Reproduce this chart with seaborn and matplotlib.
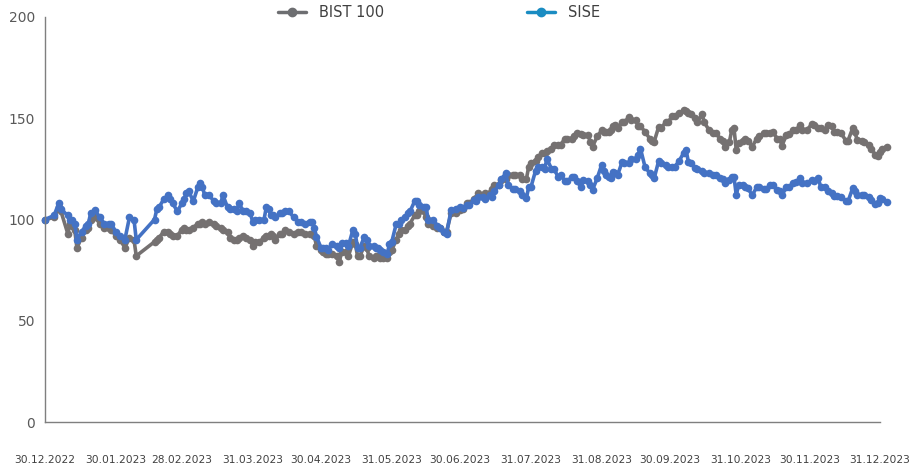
import matplotlib
matplotlib.use("Agg")
import matplotlib.pyplot as plt
from matplotlib.lines import Line2D
import seaborn as sns
import pandas as pd

# days since 30.12.2022 (both series share the same trading dates)
start = pd.Timestamp("2022-12-30")
days = [0, 4, 6, 7, 10, 11, 12, 13, 14, 16, 18, 19, 20, 22, 24, 26, 28, 29, 31, 33,
        35, 37, 39, 40, 48, 49, 50, 52, 54, 55, 56, 58, 60, 61,
        62, 63, 65, 67, 68, 69, 70, 72, 74, 75, 77, 78, 80, 81, 83, 84, 85, 87, 88, 90,
        91, 92, 94, 96, 97, 98, 99, 100, 101, 103, 104, 105, 107, 109, 111, 112, 114,
        116, 117, 118, 119, 121, 122,
        123, 124, 126, 128, 129, 130, 132, 133, 135, 136, 137, 138, 140, 141, 142, 144,
        145, 146, 147, 148, 150, 151, 152, 154, 155, 156, 158, 159, 160, 162, 163, 164,
        166, 167, 168, 170, 172, 173, 175, 176, 178, 180, 182, 183,
        185, 186, 188, 189, 190, 192, 193, 195, 196, 197, 199, 200, 202, 203, 205, 206,
        208, 209, 211, 212, 213, 215, 216, 218, 219, 220, 222, 223, 225, 226, 228, 229,
        231, 232, 233, 235, 236, 238, 239, 240, 242, 244, 245,
        246, 247, 248, 249, 250, 251, 253, 254, 256, 257, 259, 260, 261, 263, 265, 266,
        267, 269, 270, 272, 273, 275, 276, 278, 280, 281, 282, 283, 285, 286, 288, 289,
        291, 293, 294, 296, 297, 298, 300, 301, 302, 303, 304, 306,
        307, 308, 310, 312, 313, 315, 316, 318, 319, 321, 322, 323, 325, 326, 328, 329,
        331, 332, 334, 336, 337, 339, 340, 342, 343, 345, 346, 347, 349, 351, 352, 354,
        355, 356, 358, 359, 361, 362, 364, 365, 366, 367, 369]

bist100 = [100, 101, 106, 104, 93, 98, 97, 95, 86, 91, 95, 96, 100, 101, 98, 96, 96, 95, 92, 90,
           86, 91, 90, 82, 89, 90, 91, 94, 94, 93, 92, 92, 95, 96,
           95, 95, 96, 98, 98, 99, 98, 99, 98, 97, 96, 95, 94, 91, 90, 90, 91, 92, 91, 90,
           87, 89, 89, 91, 92, 92, 93, 92, 90, 93, 93, 95, 94, 93, 94, 94, 93,
           93, 93, 92, 87, 85, 84,
           83, 83, 83, 82, 79, 84, 84, 82, 89, 88, 82, 82, 87, 86, 82, 81,
           82, 82, 81, 81, 81, 84, 85, 90, 93, 95, 95, 97, 98, 102, 102, 104,
           104, 101, 98, 97, 96, 96, 94, 94, 103, 103, 104.7, 105,
           108, 108, 110, 110.5, 113, 112, 113, 113, 115, 117, 117, 119.5, 120, 122, 122, 122,
           122, 120, 120, 126, 128, 129, 131, 132.7, 133, 134, 135, 137, 136.8, 137, 140, 140,
           140, 141, 142.5, 142, 141.7, 141.7, 138.4, 136, 141, 144, 143,
           143.4, 143, 144, 146, 146.5, 145, 148.3, 148, 150.8, 149, 149, 146, 146, 143.4, 140, 139,
           138.4, 145.8, 145, 148, 148, 151, 151, 152.4, 154, 153.5, 152.4, 152, 150, 148, 152, 148,
           144.2, 142.5, 142.5, 140, 139, 136, 138.4, 144, 145, 134.3, 138, 139,
           140, 139, 136, 140, 141, 142.5, 142.5, 142.5, 143, 140, 140, 136.5, 141.7, 142, 144.2, 144,
           146.6, 144.2, 144.2, 147, 146.5, 145, 145, 144, 146.6, 146, 143.4, 143, 142.5, 139, 139, 145,
           143, 139.3, 139, 138.4, 136.8, 135, 132, 131.5, 133.5, 135, 136]

sise = [100, 102, 108, 105, 102, 100, 100, 98, 90, 94, 97, 98, 103, 104.5, 101, 98, 98, 98, 94, 92,
        90, 101, 100, 90, 100, 105, 106, 110, 112, 110, 108, 104, 108, 110,
        113, 114, 109, 116, 118, 116, 112, 112, 109, 108, 108, 112, 106, 105, 105, 104, 108, 104, 104, 103,
        99, 100, 100, 100, 106, 105, 102, 102, 101, 103, 103, 104, 104, 101, 99, 99, 98,
        99, 99, 96, 91.5, 86, 86,
        86, 85, 88, 87, 86, 88.5, 88.5, 87, 95, 93, 86, 86, 91.5, 90, 87, 87,
        86, 86, 85, 84, 83, 88, 89, 98, 98, 100, 101, 103, 104, 109, 109, 107,
        106, 106, 100, 100, 97, 96, 94, 93, 104.7, 105, 106, 105.5,
        107, 107, 109.6, 109, 111, 111, 110, 112, 111, 114, 117, 120, 122.8, 117, 115, 115,
        114, 112, 110.4, 116, 116, 124, 126, 126, 125, 130, 125, 125, 121, 122, 119, 119,
        121, 121, 119, 116, 119.5, 119, 117, 114.6, 120.3, 127, 124,
        122, 121, 120.3, 123.6, 123, 122, 128.5, 128, 127.7, 130, 130, 132, 135, 126, 123, 122,
        120.3, 129, 128, 127, 126, 126, 126, 129, 133, 134.3, 128.5, 128, 125.3, 125, 124, 123,
        122.8, 122, 122, 120.3, 120, 118, 119.5, 121, 121, 112, 117, 117,
        116, 115.5, 112, 116, 116, 115, 115, 117, 116.8, 114.6, 114, 112, 116, 116, 118, 118.5,
        120.3, 118, 117.9, 119.5, 119, 120.3, 116, 116, 114, 113, 111.5, 111.5, 111.3, 109, 109, 115.4,
        114, 112, 112, 112, 111.3, 109.6, 107.5, 108, 110.8, 110, 108.5]

tick_labels = ["30.12.2022", "30.01.2023", "28.02.2023", "31.03.2023", "30.04.2023",
               "31.05.2023", "30.06.2023", "31.07.2023", "31.08.2023", "30.09.2023",
               "31.10.2023", "30.11.2023", "31.12.2023"]

dates = list(start + pd.to_timedelta(days, unit="D"))
n = len(days)
df = pd.DataFrame({
    "date": dates + dates,
    "value": bist100 + sise,
    "series": ["BIST 100"] * n + ["SISE"] * n,
})

sns.set_style("white")
fig = plt.figure(figsize=(9.23, 4.70), dpi=100)
ax = fig.add_axes([45 / 923, 48 / 470, 835 / 923, 405 / 470])

sns.lineplot(data=df, x="date", y="value", hue="series",
             palette={"BIST 100": "#757171", "SISE": "#4472C4"},
             marker="o", markersize=5.5, markeredgewidth=0, linewidth=2.6,
             estimator=None, legend=False, ax=ax)
for line in ax.lines:
    line.set_clip_on(False)

ax.set_xlim(start, pd.Timestamp("2023-12-31"))
ax.set_ylim(0, 200)
ax.set_yticks([0, 50, 100, 150, 200])
ax.set_xticks(pd.to_datetime(tick_labels, format="%d.%m.%Y"))
ax.set_xticklabels(tick_labels)
ax.set_xlabel("")
ax.set_ylabel("")

for s in ["top", "right"]:
    ax.spines[s].set_visible(False)
for s in ["left", "bottom"]:
    ax.spines[s].set_color("#7f7f7f")
    ax.spines[s].set_linewidth(1)

ax.tick_params(axis="both", direction="out", length=4, width=1, color="#7f7f7f")
ax.tick_params(axis="x", pad=20, labelsize=7.7, labelcolor="#404040")
ax.tick_params(axis="y", pad=3, labelsize=10, labelcolor="#595959")

handles = [
    Line2D([], [], color="#6d6e71", marker="o", lw=2.5, markersize=6),
    Line2D([], [], color="#1a8cc2", marker="o", lw=2.5, markersize=6),
]
fig.legend(handles, ["BIST 100", "SISE"], loc="center", bbox_to_anchor=(0.476, 0.974),
           ncol=2, frameon=False, fontsize=10.5, handlelength=1.9, handletextpad=0.9,
           columnspacing=9.8, labelcolor="#404040")

fig.savefig("out.png", dpi=100)
